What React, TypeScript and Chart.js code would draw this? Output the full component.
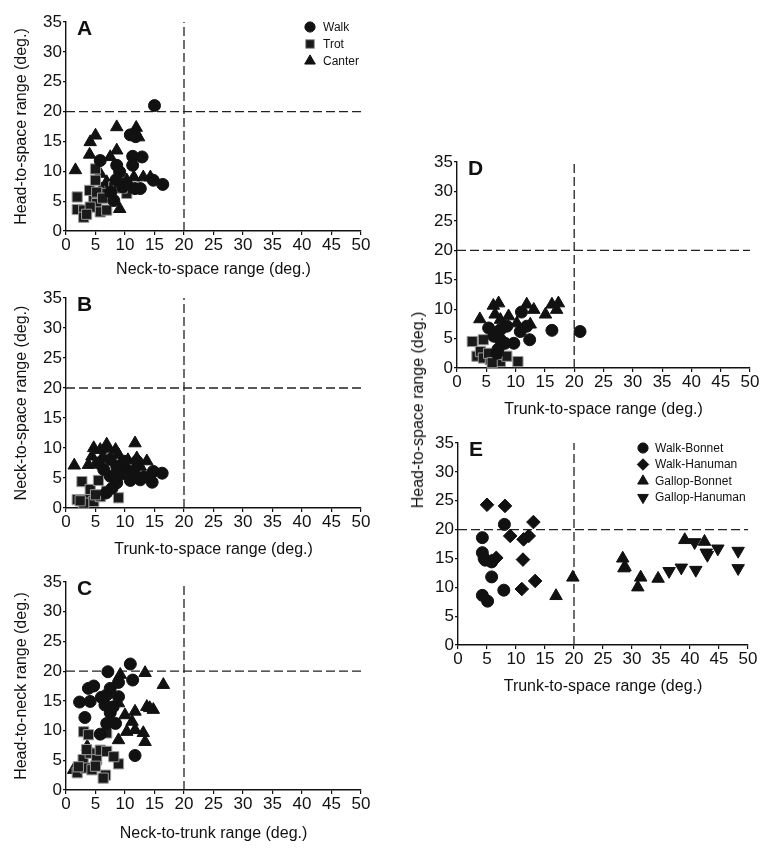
import React, { useEffect, useRef } from "react";
import { Chart, registerables } from "chart.js";
import { drawPoint } from "chart.js/helpers";

Chart.register(...registerables);

const FONT = "'Liberation Sans', Arial, Helvetica, sans-serif";
Chart.defaults.font.family = FONT;

type Pt = [number, number];

// ---------- axis ticks ----------
const X_MIN = 0, X_MAX = 50, X_STEP = 5;
const Y_MIN = 0, Y_MAX = 35, Y_STEP = 5;
const THRESHOLD = 20;

// ---------- Panel A: neck-to-space (x) vs head-to-space (y) ----------
const walkA: Pt[] = [[15, 21], [10.9, 16.1], [11.8, 15.8], [11.3, 12.5], [12.9, 12.4], [11.3, 11.0], [5.8, 11.8], [8.6, 11.0], [9.1, 9.9], [14.8, 8.5], [16.4, 7.8], [11.7, 7.1], [12.6, 7.1], [8.1, 5.1], [9.6, 7.4], [7.6, 6.5], [10.2, 8.0], [8.5, 8.6]];
const trotA: Pt[] = [[1.9, 5.7], [1.9, 3.6], [3.0, 3.5], [3.0, 2.3], [4.0, 6.8], [5.0, 10.4], [5.0, 8.5], [4.7, 5.1], [5.2, 4.6], [5.8, 3.2], [6.9, 3.5], [4.1, 4.0], [6.9, 6.3], [8.1, 7.4], [8.9, 7.9], [10.3, 6.3], [5.2, 6.5], [3.5, 2.8], [6.2, 5.5], [9.5, 7.2]];
const canterA: Pt[] = [[1.6, 10.2], [4.1, 14.9], [5.0, 16.0], [4.0, 12.8], [8.6, 17.4], [11.9, 17.3], [12.3, 15.7], [8.6, 13.5], [7.5, 12.4], [5.8, 9.6], [9.1, 3.7], [11.5, 9.0], [13.1, 9.0], [14.3, 9.0], [7.5, 7.6], [6.9, 8.2], [10.3, 8.5], [6.0, 7.0]];

// ---------- Panel B: trunk-to-space (x) vs neck-to-space (y) ----------
const walkB: Pt[] = [[5.5, 7.5], [7.5, 8.1], [8.6, 6.9], [10.3, 6.4], [11.5, 6.1], [14.8, 6.1], [16.3, 5.8], [14.6, 4.3], [12.6, 4.7], [10.9, 4.6], [8.6, 4.2], [7.5, 5.3], [6.4, 6.4], [9.8, 7.8], [7.8, 3.3], [12.0, 7.8], [6.8, 2.5], [9.2, 5.6], [13.2, 5.2]];
const trotB: Pt[] = [[1.9, 1.4], [2.7, 4.4], [4.1, 3.1], [5.5, 4.6], [3.6, 1.4], [4.7, 1.1], [5.8, 1.9], [6.9, 2.8], [8.9, 1.7], [5.0, 2.2], [3.0, 0.8], [2.4, 1.2]];
const canterB: Pt[] = [[1.4, 7.1], [4.7, 10.0], [3.8, 7.2], [4.4, 8.6], [6.9, 10.6], [8.4, 9.7], [11.7, 10.8], [12.0, 8.3], [13.7, 7.8], [12.6, 6.9], [5.8, 9.7], [8.9, 8.9], [7.2, 9.9], [10.5, 8.0], [6.2, 8.5]];

// ---------- Panel C: neck-to-trunk (x) vs head-to-neck (y) ----------
const walkC: Pt[] = [[2.3, 14.8], [4.1, 14.9], [3.2, 12.2], [3.8, 17.1], [4.7, 17.5], [7.1, 19.9], [10.9, 21.2], [11.3, 18.5], [8.9, 18.1], [6.9, 16.0], [8.9, 15.7], [6.6, 14.3], [7.5, 13.0], [5.8, 9.4], [6.9, 11.2], [8.4, 11.2], [11.7, 5.8], [7.5, 17.1], [8.0, 14.0], [6.0, 15.6]];
const trotC: Pt[] = [[3.0, 9.8], [3.8, 9.3], [1.9, 2.9], [2.9, 5.1], [4.1, 6.2], [5.2, 5.1], [5.8, 6.7], [6.9, 6.5], [6.7, 2.5], [6.9, 9.6], [8.9, 4.4], [8.1, 5.6], [3.3, 3.7], [4.4, 3.4], [2.1, 3.9], [3.5, 6.8], [5.0, 4.0], [6.3, 2.0]];
const canterC: Pt[] = [[9.2, 19.4], [13.4, 19.7], [16.5, 17.7], [13.7, 14.0], [14.8, 13.5], [10.0, 12.6], [11.7, 13.2], [8.9, 8.4], [10.3, 9.8], [11.7, 10.1], [13.1, 9.6], [13.4, 8.1], [1.3, 3.4], [3.6, 7.3], [8.9, 14.6], [11.2, 11.5], [14.2, 13.8]];

// ---------- Panel D: trunk-to-space (x) vs head-to-space (y) ----------
const walkD: Pt[] = [[21.0, 6.2], [16.2, 6.4], [11.0, 9.5], [12.4, 4.8], [9.7, 4.2], [5.4, 6.8], [7.4, 6.5], [7.4, 4.8], [6.3, 5.4], [8.5, 7.1], [10.8, 6.2], [11.9, 7.1], [6.8, 2.5], [8.2, 4.2], [7.0, 3.2]];
const trotD: Pt[] = [[2.6, 4.5], [4.5, 4.8], [3.4, 2.0], [4.0, 2.8], [4.5, 1.7], [5.7, 1.4], [7.4, 1.1], [8.5, 2.0], [10.4, 1.1], [6.8, 2.3], [5.4, 2.5], [6.0, 0.9]];
const canterD: Pt[] = [[3.9, 8.3], [7.1, 11.0], [6.5, 9.1], [8.8, 8.8], [11.9, 10.8], [13.1, 9.9], [15.1, 9.1], [16.2, 10.8], [17.3, 11.0], [17.0, 9.9], [7.4, 8.2], [10.2, 7.6], [12.5, 7.4], [6.2, 10.6]];

// ---------- Panel E: trunk-to-space (x) vs head-to-space (y) ----------
const walkBonnetE: Pt[] = [[4.2, 18.6], [4.2, 16.0], [4.7, 14.7], [5.8, 14.4], [8.0, 20.9], [5.8, 11.8], [4.2, 8.6], [5.1, 7.6], [7.9, 9.5], [4.5, 15.0]];
const walkHanumanE: Pt[] = [[5.0, 24.3], [8.1, 24.1], [13.0, 21.3], [9.0, 18.9], [11.3, 18.3], [12.2, 18.9], [6.6, 15.1], [11.2, 14.8], [13.3, 11.1], [11.0, 9.7], [5.8, 14.6]];
const gallopBonnetE: Pt[] = [[16.9, 8.5], [19.8, 11.7], [28.4, 15.0], [28.8, 13.5], [31.5, 11.7], [31.0, 10.0], [34.5, 11.5], [39.1, 18.2], [42.5, 17.9], [28.6, 13.3]];
const gallopHanumanE: Pt[] = [[36.4, 12.8], [38.5, 13.4], [41.0, 13.0], [40.8, 17.8], [42.8, 16.0], [44.8, 16.7], [48.3, 16.3], [48.3, 13.3], [43.0, 15.6]];

// ---------- marker styles ----------
type Mk = { pointStyle: string; radius: number; bg: string; border: string; bw: number; rotation: number };
const CIRCLE: Mk = { pointStyle: "circle", radius: 6, bg: "#111", border: "#111", bw: 1, rotation: 0 };
const SQUARE: Mk = { pointStyle: "rect", radius: 7.2, bg: "#1a1a1a", border: "#9a9a9a", bw: 1, rotation: 0 };
const TRI: Mk = { pointStyle: "triangle", radius: 7.2, bg: "#111", border: "#111", bw: 1, rotation: 0 };
const DIAMOND: Mk = { pointStyle: "rectRot", radius: 6.8, bg: "#111", border: "#111", bw: 1, rotation: 0 };
const INVTRI: Mk = { pointStyle: "triangle", radius: 7.2, bg: "#111", border: "#111", bw: 1, rotation: 180 };

type Series = { label: string; data: Pt[]; mk: Mk };

function pointDataset(s: Series) {
  return {
    label: s.label,
    data: s.data.map(([x, y]) => ({ x, y })),
    showLine: false,
    pointStyle: s.mk.pointStyle,
    pointRadius: s.mk.radius,
    pointHoverRadius: s.mk.radius,
    pointBackgroundColor: s.mk.bg,
    pointBorderColor: s.mk.border,
    pointBorderWidth: s.mk.bw,
    pointRotation: s.mk.rotation,
    clip: false,
    _mk: s.mk,
  };
}

function dashDataset(points: Pt[]) {
  return {
    label: "__dash",
    data: points.map(([x, y]) => ({ x, y })),
    showLine: true,
    pointRadius: 0,
    borderColor: "#222",
    borderWidth: 1.3,
    borderDash: [9, 4],
    fill: false,
    clip: false,
  };
}

const panelLetterPlugin = {
  id: "panelLetter",
  afterDatasetsDraw(chart: any, _args: any, opts: any) {
    if (!opts || !opts.text) return;
    const { ctx, chartArea } = chart;
    ctx.save();
    ctx.fillStyle = "#111";
    ctx.font = `bold ${opts.size}px ${FONT}`;
    ctx.textBaseline = "alphabetic";
    ctx.textAlign = "left";
    ctx.fillText(opts.text, chartArea.left + opts.dx, chartArea.top + opts.dy);
    ctx.restore();
  },
};

const cornerLegendPlugin = {
  id: "cornerLegend",
  afterDatasetsDraw(chart: any, _args: any, opts: any) {
    if (!opts || !opts.show) return;
    const { ctx, chartArea } = chart;
    ctx.save();
    ctx.font = `${opts.size}px ${FONT}`;
    ctx.textBaseline = "middle";
    ctx.textAlign = "left";
    let y = chartArea.top + opts.dy;
    const x = chartArea.right - opts.dxFromRight;
    chart.data.datasets.forEach((ds: any) => {
      if (ds.label === "__dash") return;
      const mk: Mk = ds._mk;
      ctx.fillStyle = mk.bg;
      ctx.strokeStyle = mk.border;
      ctx.lineWidth = mk.bw;
      drawPoint(ctx, { pointStyle: mk.pointStyle as any, rotation: mk.rotation, radius: mk.radius * 0.85, borderWidth: mk.bw }, x, y);
      ctx.fillStyle = "#111";
      ctx.fillText(ds.label, x + opts.textGap, y + 0.5);
      y += opts.spacing;
    });
    ctx.restore();
  },
};

type PanelProps = {
  left: number; top: number; width: number; height: number;
  padTop: number; padRight: number;
  yWidth: number; xHeight: number;
  xTitle: string; yTitle?: string; yTitlePad?: number; xTitlePad: number;
  letter: string;
  series: Series[];
  legend?: { dxFromRight: number; dy: number; spacing: number; textGap: number; size: number };
};

function Panel(p: PanelProps) {
  const ref = useRef<HTMLCanvasElement | null>(null);
  useEffect(() => {
    if (!ref.current) return;
    const datasets: any[] = p.series.map(pointDataset);
    datasets.push(dashDataset([[THRESHOLD, Y_MIN], [THRESHOLD, Y_MAX]]));
    datasets.push(dashDataset([[X_MIN, THRESHOLD], [X_MAX, THRESHOLD]]));
    const tickFont = { family: FONT, size: 17 };
    const titleFont = { family: FONT, size: 16 };
    const chart = new Chart(ref.current, {
      type: "scatter",
      data: { datasets },
      plugins: [panelLetterPlugin, cornerLegendPlugin],
      options: {
        animation: false,
        responsive: false,
        maintainAspectRatio: false,
        layout: { padding: { left: 0, top: p.padTop, right: p.padRight, bottom: 0 } },
        plugins: {
          legend: { display: false },
          tooltip: { enabled: false },
          panelLetter: { text: p.letter, size: 21, dx: 11, dy: 13 },
          cornerLegend: p.legend ? { show: true, ...p.legend } : { show: false },
        } as any,
        scales: {
          x: {
            type: "linear",
            position: "bottom",
            min: X_MIN,
            max: X_MAX,
            ticks: { stepSize: X_STEP, font: tickFont, color: "#111", padding: 0, maxRotation: 0, autoSkip: false },
            grid: { display: true, drawOnChartArea: false, drawTicks: true, tickLength: 4, color: "#111", lineWidth: 1.2 },
            border: { display: true, color: "#111", width: 1.4 },
            title: { display: true, text: p.xTitle, font: titleFont, color: "#111", padding: { top: 0, bottom: p.xTitlePad } },
            afterFit: (s: any) => { s.height = p.xHeight; s.paddingLeft = 0; s.paddingRight = 0; },
          },
          y: {
            type: "linear",
            position: "left",
            min: Y_MIN,
            max: Y_MAX,
            ticks: { stepSize: Y_STEP, font: tickFont, color: "#111", padding: 1, autoSkip: false },
            grid: { display: true, drawOnChartArea: false, drawTicks: true, tickLength: 3, color: "#111", lineWidth: 1.2 },
            border: { display: true, color: "#111", width: 1.4 },
            title: { display: !!p.yTitle, text: p.yTitle || "", font: titleFont, color: "#111", padding: { top: p.yTitlePad || 0, bottom: 0 } },
            afterFit: (s: any) => { s.width = p.yWidth; s.paddingTop = 0; s.paddingBottom = 0; },
          },
        },
      } as any,
    });
    return () => chart.destroy();
  }, []);
  return (
    <canvas
      ref={ref}
      width={p.width}
      height={p.height}
      style={{ position: "absolute", left: p.left, top: p.top, width: p.width, height: p.height }}
    />
  );
}

const gaitSeries = (walk: Pt[], trot: Pt[], canter: Pt[]): Series[] => [
  { label: "Walk", data: walk, mk: CIRCLE },
  { label: "Trot", data: trot, mk: SQUARE },
  { label: "Canter", data: canter, mk: TRI },
];

export default function App() {
  return (
    <div style={{ position: "absolute", left: 0, top: 0, width: 771, height: 848, background: "#fff", overflow: "hidden" }}>
      <Panel left={0} top={0} width={380} height={285} padTop={22} padRight={19} yWidth={66} xHeight={54}
        xTitle="Neck-to-space range (deg.)" yTitle="Head-to-space range (deg.)" yTitlePad={12} xTitlePad={5.4}
        letter="A" series={gaitSeries(walkA, trotA, canterA)}
        legend={{ dxFromRight: 51, dy: 5, spacing: 17, textGap: 13, size: 12 }} />
      <Panel left={0} top={280} width={380} height={285} padTop={18} padRight={19} yWidth={66} xHeight={57}
        xTitle="Trunk-to-space range (deg.)" yTitle="Neck-to-space range (deg.)" yTitlePad={12} xTitlePad={5.4}
        letter="B" series={gaitSeries(walkB, trotB, canterB)} />
      <Panel left={0} top={565} width={380} height={283} padTop={17} padRight={19} yWidth={66} xHeight={58}
        xTitle="Neck-to-trunk range (deg.)" yTitle="Head-to-neck range (deg.)" yTitlePad={12} xTitlePad={4.6}
        letter="C" series={gaitSeries(walkC, trotC, canterC)} />
      <Panel left={390} top={140} width={381} height={285} padTop={22} padRight={21} yWidth={67} xHeight={57}
        xTitle="Trunk-to-space range (deg.)" xTitlePad={5.4}
        letter="D" series={gaitSeries(walkD, trotD, canterD)} />
      <Panel left={390} top={425} width={381} height={277} padTop={18} padRight={23} yWidth={68} xHeight={57}
        xTitle="Trunk-to-space range (deg.)" xTitlePad={5.4}
        letter="E"
        series={[
          { label: "Walk-Bonnet", data: walkBonnetE, mk: CIRCLE },
          { label: "Walk-Hanuman", data: walkHanumanE, mk: DIAMOND },
          { label: "Gallop-Bonnet", data: gallopBonnetE, mk: TRI },
          { label: "Gallop-Hanuman", data: gallopHanumanE, mk: INVTRI },
        ]}
        legend={{ dxFromRight: 105, dy: 5, spacing: 16.5, textGap: 12, size: 12 }} />
      <div
        style={{
          position: "absolute",
          left: 418,
          top: 410,
          transform: "translate(-50%, -50%) rotate(-90deg)",
          whiteSpace: "nowrap",
          font: `16px ${FONT}`,
          color: "#111",
        }}
      >
        Head-to-space range (deg.)
      </div>
    </div>
  );
}
